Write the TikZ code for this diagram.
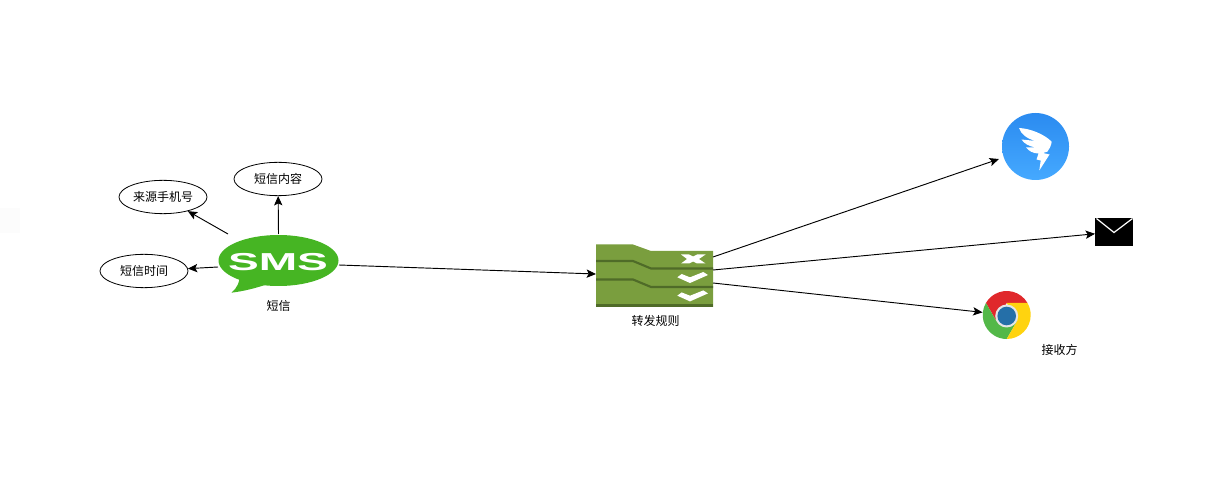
\documentclass[tikz,border=0pt]{standalone}
\usepackage{fontspec}
\setmainfont{Noto Sans CJK SC}
\newfontfamily\smsfont{Liberation Sans}
\usetikzlibrary{arrows.meta,shapes.geometric}
\definecolor{smsgreen}{HTML}{46B523}
\definecolor{ruleolive}{HTML}{7A9E3E}
\definecolor{ruledark}{HTML}{4F6B28}
\definecolor{dingtop}{HTML}{2B8BF0}
\definecolor{dingbottom}{HTML}{45A9FF}
\definecolor{chromered}{HTML}{E0282B}
\definecolor{chromegreen}{HTML}{53B848}
\definecolor{chromeyellow}{HTML}{FFD30F}
\definecolor{chromeblue}{HTML}{256FA8}
\tikzset{
  field/.style={draw,line width=.6pt,ellipse,minimum width=66pt,minimum height=25pt,inner sep=0pt,font=\fontsize{9}{11}\selectfont},
  caption/.style={inner sep=0pt,font=\fontsize{9}{11}\selectfont},
  iconbox/.style={inner sep=0pt,outer sep=0pt},
  flow/.style={-{Stealth[length=7pt,width=6.2pt,inset=1.5pt]},line width=.7pt}
}
\begin{document}
\begin{tikzpicture}[x=.75pt,y=-.75pt]
    \useasboundingbox (0,0) rectangle (1228,477);
    \fill[black!1] (0,208) rectangle (20,233);
    % sms bubble
    \fill[smsgreen] (278.5,260.5) ellipse[x radius=60,y radius=25.5];
    \fill[smsgreen] (240,274) .. controls (240,282) and (237,288) .. (231.5,292.7)
      .. controls (245,291) and (256,288) .. (268,284) -- cycle;
    % rule folder
    \fill[ruleolive] (596,244.5) -- (633,244.5) -- (651,251) -- (713,251) -- (713,307) -- (596,307) -- cycle;
    \draw[ruledark,line width=1.6pt] (596,261) -- (633,261) -- (651,268.5) -- (713,268.5);
    \draw[ruledark,line width=1.6pt] (596,279.5) -- (633,279.5) -- (651,287) -- (713,287);
    \fill[ruledark] (596,304.5) rectangle (713,307);
    \fill[white] (681,254.5) -- (689,254.5) -- (693,256.5) -- (697,254.5) -- (705.5,254.5) -- (699,259) -- (705.5,263.5)
      -- (697,263.5) -- (693,261.5) -- (689,263.5) -- (681,263.5) -- (687,259) -- cycle;
    \foreach \y in {0,18.4}
      \fill[white] (677.3,277.3+\y) -- (681.7,274+\y) -- (690,277.3+\y) -- (703.3,272+\y) -- (708,275+\y) -- (690,283+\y) -- cycle;
    % dingtalk
    \shade[top color=dingtop,bottom color=dingbottom] (1035.5,146.5) circle[radius=33.5];
    \fill[white] (1019,128) .. controls (1030,128.5) and (1044,134) .. (1051.7,141.7)
      .. controls (1051,146) and (1049.5,149) .. (1047.5,151.5) -- (1043,153) -- (1049.5,154.5) -- (1039.3,170.5) -- (1040.7,160.5)
      -- (1036.5,159.5) -- (1038.5,153.5) .. controls (1033,153.5) and (1029,151) .. (1026,147.5)
      -- (1036,147.5) .. controls (1029,146.5) and (1024,143.5) .. (1021.5,139.5) -- (1036,141)
      .. controls (1027,139) and (1021,134) .. cycle;
    % mail
    \fill[black] (1095,218) rectangle (1133,246);
    \draw[white,line width=.9pt] (1096.5,218.5) -- (1114,232.5) -- (1132.5,218.5);
    % chrome
    \begin{scope}[shift={(1006.7,315)},x=.75pt,y=.75pt]
      \fill[chromered] (30:24) arc[start angle=30,end angle=150,radius=24] -- (210:12) -- (90:12) -- cycle;
      \fill[chromegreen] (150:24) arc[start angle=150,end angle=270,radius=24] -- (330:12) -- (210:12) -- cycle;
      \fill[chromeyellow] (270:24) arc[start angle=270,end angle=390,radius=24] -- (90:12) -- (330:12) -- cycle;
      \fill[white!90!black] (0,-1) circle[radius=11.5];
      \fill[chromeblue] (0,-1) circle[radius=9.3];
    \end{scope}
    \draw
    (278.5,263) node[iconbox,minimum width=90.75pt,minimum height=43.5pt](Sms){}
    (278,262) node[iconbox,white,xscale=1.88,font=\smsfont\bfseries\fontsize{18.4}{19}\selectfont](SmsText){SMS}
    (654.5,275.5) node[iconbox,minimum width=87.75pt,minimum height=47.25pt](Rule){}
    (1035.5,146.5) node[iconbox,circle,minimum size=58pt](Ding){}
    (1114,232) node[iconbox,minimum width=28.5pt,minimum height=21pt](Mail){}
    (1006.7,315) node[iconbox,circle,minimum size=36.5pt](Chrome){}
    (144,271) node[field](Time){短信时间}
    (163,197) node[field](Source){来源手机号}
    (278,179) node[field](Content){短信内容}
    (278.5,305.5) node[caption](SmsLabel){短信}
    (655.5,320.5) node[caption](RuleLabel){转发规则}
    (1059.5,349.5) node[caption](TargetLabel){接收方};
    \coordinate (SmsLeft) at (218,267);
    \coordinate (SmsTop) at (228,234);
    \coordinate (SmsRight) at (339,265);
    \coordinate (RuleIn) at (596,274);
    \coordinate (RuleA) at (713,257);
    \coordinate (RuleB) at (713,270);
    \coordinate (RuleC) at (713,283);
    \draw[flow] (SmsLeft) -- (Time);
    \draw[flow] (SmsTop) -- (Source);
    \draw[flow] (Sms.north) -- (Content);
    \draw[flow] (SmsRight) -- (RuleIn);
    \draw[flow] (RuleA) -- (Ding);
    \draw[flow] (RuleB) -- (Mail);
    \draw[flow] (RuleC) -- (Chrome);
  \end{tikzpicture}
\end{document}
